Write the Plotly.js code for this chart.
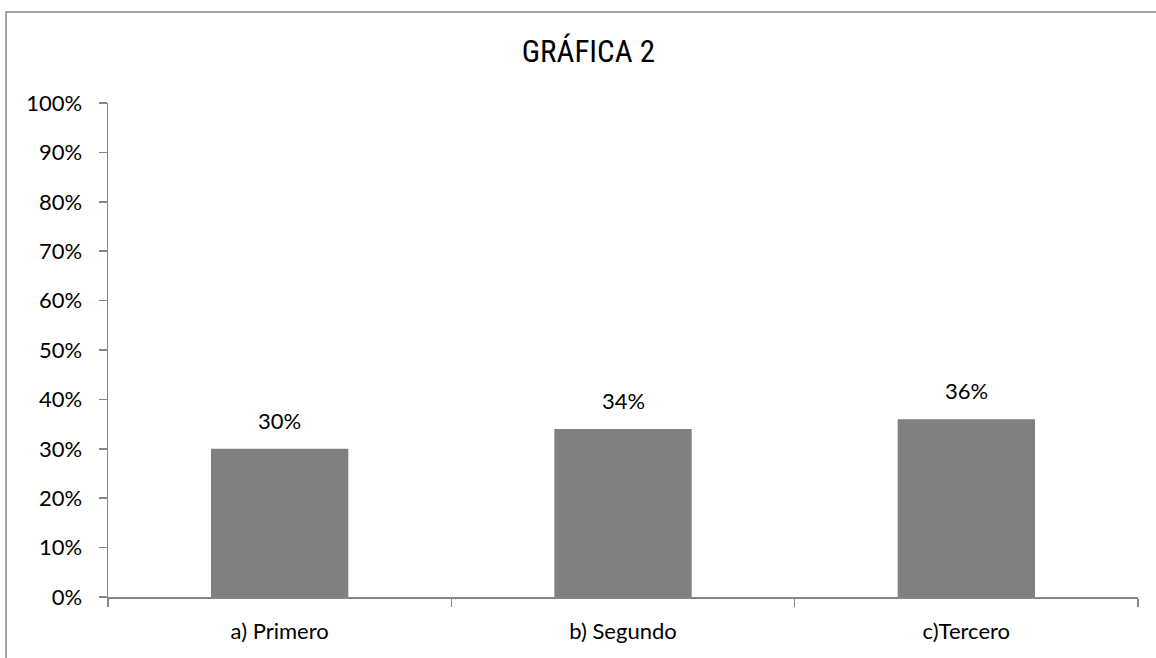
<!DOCTYPE html>
<html>
<head>
<meta charset="utf-8">
<script src="https://cdn.plot.ly/plotly-3.0.1.min.js"></script>
<style>
html,body{margin:0;padding:0;background:#fff;}
#chart{width:1156px;height:658px;}
</style>
</head>
<body>
<div id="chart"></div>
<script>
const categories = ["a) Primero", "b) Segundo", "c)Tercero"];
const values = [0.30, 0.34, 0.36];
const labels = ["30%", "34%", "36%"];
const titleText = "GRÁFICA 2";

const FONT = "Lato, 'Open Sans', sans-serif";
const TITLE_FONT = "'Liberation Sans Narrow', 'Arial Narrow', 'Roboto Condensed', sans-serif";
const axisColor = "#868686";

const trace = {
  type: "bar",
  x: categories,
  y: values,
  marker: {color: "#808080"},
  hoverinfo: "x+y"
};

const annotations = categories.map((c, i) => ({
  x: c, y: values[i], xref: "x", yref: "y",
  text: labels[i], showarrow: false,
  yanchor: "bottom", yshift: 13,
  font: {family: FONT, size: 22, color: "#000"}
}));

const layout = {
  width: 1156,
  height: 658,
  margin: {l: 108, r: 18, t: 103, b: 61},
  paper_bgcolor: "#fff",
  plot_bgcolor: "#fff",
  bargap: 0.6,
  showlegend: false,
  title: {
    text: titleText,
    font: {family: TITLE_FONT, size: 31, color: "#000"},
    xref: "container", x: 0.509, xanchor: "center",
    yref: "container", y: 0.922, yanchor: "middle"
  },
  xaxis: {
    type: "category",
    showline: true, linecolor: axisColor, linewidth: 1.5,
    ticks: "outside", tickson: "boundaries", ticklen: 8, tickcolor: axisColor, tickwidth: 1.5,
    tickfont: {family: FONT, size: 22, color: "#000"},
    ticklabelstandoff: 14,
    showgrid: false, zeroline: false
  },
  yaxis: {
    range: [0, 1],
    tickvals: [0,0.1,0.2,0.3,0.4,0.5,0.6,0.7,0.8,0.9,1],
    tickformat: ".0%",
    showline: true, linecolor: axisColor, linewidth: 1.5,
    ticks: "outside", ticklen: 8, tickcolor: axisColor, tickwidth: 1.5,
    tickfont: {family: FONT, size: 22, color: "#000"},
    ticklabelstandoff: 12,
    showgrid: false, zeroline: false
  },
  annotations: annotations,
  shapes: [{
    type: "rect", xref: "paper", yref: "paper",
    x0: -0.099, x1: 1.2, y0: -0.3, y1: 1.184,
    line: {color: "#878787", width: 1.5}, fillcolor: "rgba(0,0,0,0)", layer: "below"
  }]
};

Plotly.newPlot("chart", [trace], layout, {displayModeBar: false, staticPlot: true});
</script>
</body>
</html>
